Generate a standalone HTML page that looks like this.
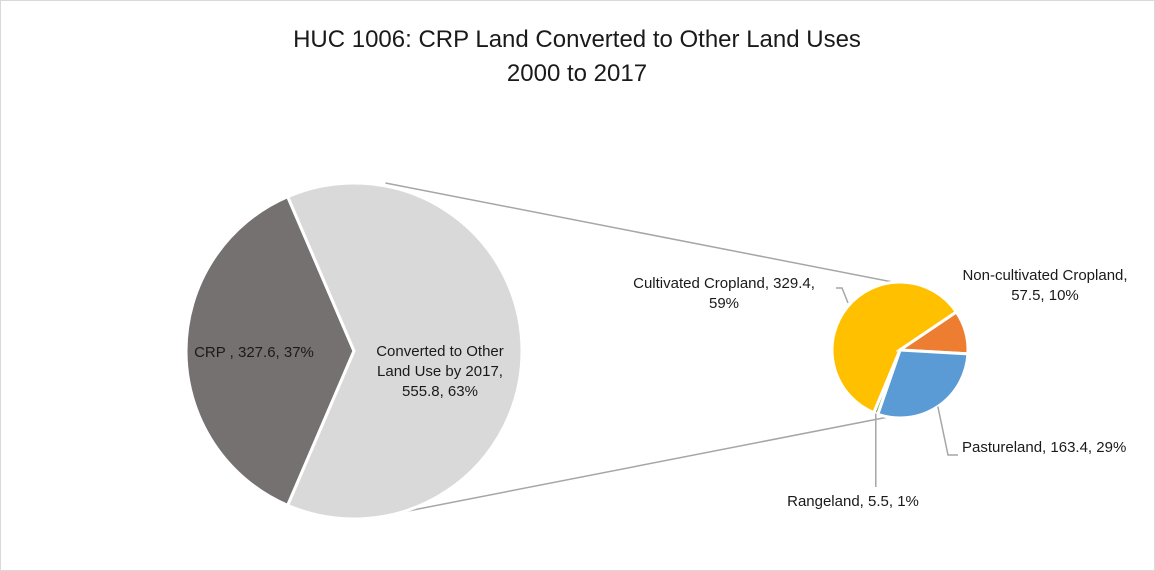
<!DOCTYPE html>
<html><head><meta charset="utf-8"><style>
body{margin:0;background:#fff}
svg{display:block;font-family:"Liberation Sans",sans-serif}
</style></head><body>
<svg id="chart" width="1155" height="571">
<rect x="0.5" y="0.5" width="1154" height="570" fill="#fff" stroke="#d9d9d9"/>
<text x="577" y="47" text-anchor="middle" font-size="24" fill="#1a1a1a">HUC 1006: CRP Land Converted to Other Land Uses</text>
<text x="577" y="81" text-anchor="middle" font-size="24" fill="#1a1a1a">2000 to 2017</text>
<g id="connectors"></g>
<g id="main"></g>
<g id="sub"></g>
<g id="labels"></g>
</svg>
<script>
const mainCats=["CRP","Converted to Other Land Use by 2017"];
const mainVals=[327.6,555.8];
const mainColors=["#767171","#d9d9d9"];
const subCats=["Cultivated Cropland","Non-cultivated Cropland","Pastureland","Rangeland"];
const subVals=[329.4,57.5,163.4,5.5];
const subColors=["#ffc000","#ed7d31","#5b9bd5","#70ad47"];
const NS="http://www.w3.org/2000/svg";
function mk(t,a,p){const e=document.createElementNS(NS,t);for(const k in a)e.setAttribute(k,a[k]);p.appendChild(e);return e;}
function pt(cx,cy,r,a){return [cx+r*Math.cos(a*Math.PI/180),cy+r*Math.sin(a*Math.PI/180)];}
function arc(cx,cy,r,a0,a1){const p0=pt(cx,cy,r,a0),p1=pt(cx,cy,r,a1);const lg=(a1-a0)>180?1:0;
return `M${cx},${cy}L${p0[0]},${p0[1]}A${r},${r} 0 ${lg} 1 ${p1[0]},${p1[1]}Z`;}
// main pie
const MX=354,MY=351,MR=168;
const mTot=mainVals.reduce((a,b)=>a+b,0);
const crpSpan=mainVals[0]/mTot*360;
let a=180-crpSpan/2;
const mg=document.getElementById('main');
const mainStarts=[];
mainVals.forEach((v,i)=>{const s=v/mTot*360;mainStarts.push(a);
 const p=mk('path',{d:arc(MX,MY,MR,a,a+s),fill:mainColors[i],stroke:'#fff','stroke-width':3},mg);
 
 
 a+=s;});
// sub pie
const SX=900,SY=350,SR=68;
const sTot=subVals.reduce((a,b)=>a+b,0);
const ncStart=-34;
let b=ncStart-subVals[0]/sTot*360;
const sg=document.getElementById('sub');
const subAngles=[];
subVals.forEach((v,i)=>{const s=v/sTot*360;subAngles.push([b,b+s]);
 const p=mk('path',{d:arc(SX,SY,SR,b,b+s),fill:subColors[i],stroke:'#fff','stroke-width':3},sg);
 
 
 b+=s;});
// connectors
const cg=document.getElementById('connectors');
const mEnd=180+crpSpan/2;
const t1=pt(MX,MY,MR,mEnd+(360-crpSpan)*0.03), t2=pt(SX,SY,SR,-95);
const b1=pt(MX,MY,MR,180-crpSpan/2-(360-crpSpan)*0.03), b2=pt(SX,SY,SR,100);
const l1=mk('line',{x1:pt(MX,MY,MR,-75)[0]-12,y1:183,x2:t2[0],y2:t2[1],stroke:'#a6a6a6','stroke-width':1.5},cg);

const l2=mk('line',{x1:pt(MX,MY,MR,76)[0]-2,y1:514,x2:b2[0],y2:b2[1],stroke:'#a6a6a6','stroke-width':1.5},cg);

// labels
const lg=document.getElementById('labels');
function txt(lines,x,y,anchor,name){const t=mk('text',{x:x,y:y,'text-anchor':anchor,'font-size':15,fill:'#1a1a1a'},lg);
 
 lines.forEach((l,i)=>{const s=mk('tspan',{x:x,dy:i?20:0},t);s.textContent=l;});}
function pct(v,t){return Math.round(v/t*100)+'%';}
txt(["CRP , "+mainVals[0]+", "+pct(mainVals[0],mTot)],254,357,'middle','label-crp');
txt(["Converted to Other","Land Use by 2017,",mainVals[1]+", "+pct(mainVals[1],mTot)],440,356,'middle','label-converted');
txt(["Cultivated Cropland, "+subVals[0]+",",pct(subVals[0],sTot)],724,288,'middle','label-cultivated');
txt(["Non-cultivated Cropland,",subVals[1]+", "+pct(subVals[1],sTot)],1045,280,'middle','label-noncultivated');
txt(["Pastureland, "+subVals[2]+", "+pct(subVals[2],sTot)],962,452,'start','label-pastureland');
txt(["Rangeland, "+subVals[3]+", "+pct(subVals[3],sTot)],853,506,'middle','label-rangeland');
function leader(pts,name){const p=mk('polyline',{points:pts.map(q=>q.join(',')).join(' '),fill:'none',stroke:'#a6a6a6','stroke-width':1.5},lg);
 }
const cm=(subAngles[0][0]+subAngles[0][1])/2;
leader([[836,288],[842,288],[848,303]],'leader-cultivated');
const pm=(subAngles[2][0]+subAngles[2][1])/2;
const pp=pt(SX,SY,SR,pm);
leader([pp,[948,455],[958,455]],'leader-pastureland');
const rm=(subAngles[3][0]+subAngles[3][1])/2;
const rp=pt(SX,SY,SR,rm);
leader([rp,[rp[0],487]],'leader-rangeland');
</script>
</body></html>
